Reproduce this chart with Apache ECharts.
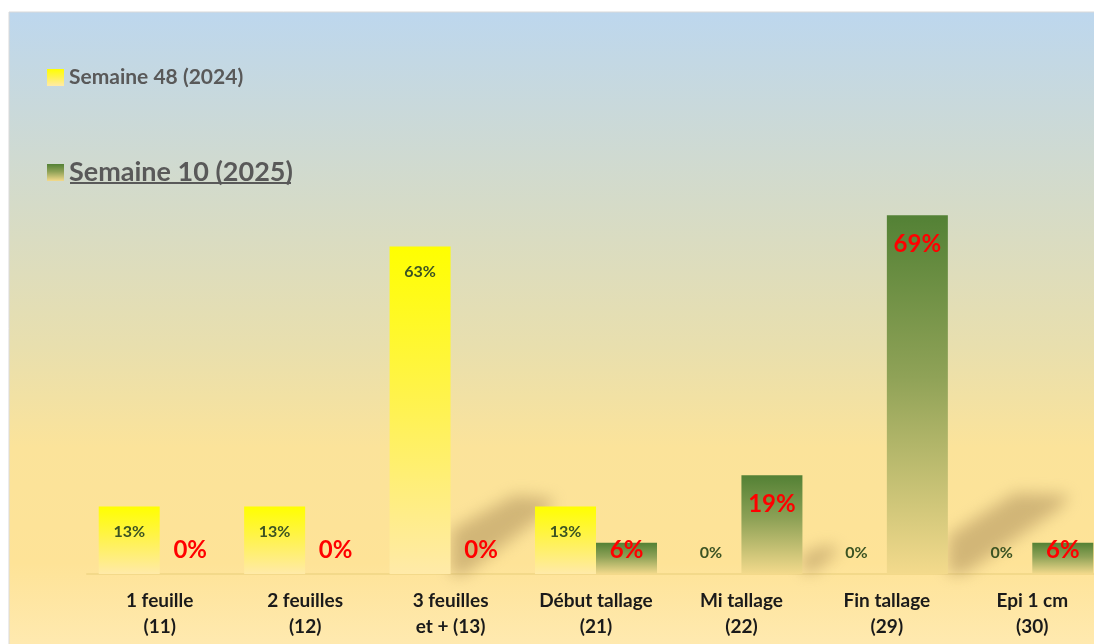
<!DOCTYPE html>
<html>
<head>
<meta charset="utf-8">
<script src="https://cdn.jsdelivr.net/npm/echarts@6/dist/echarts.min.js"></script>
<style>
  html, body { margin: 0; padding: 0; background: #fff; overflow: hidden; }
  #main { width: 1105px; height: 644px; }
</style>
</head>
<body>
<div id="main"></div>
<script>
// stades phenologiques
var categories = ['1 feuille\n(11)', '2 feuilles\n(12)', '3 feuilles\net + (13)', 'Début tallage\n(21)', 'Mi tallage\n(22)', 'Fin tallage\n(29)', 'Epi 1 cm\n(30)'];
var semaine48 = [13, 13, 63, 13, 0, 0, 0];
var semaine10 = [0, 0, 0, 6, 19, 69, 6];
var seriesNames = ['Semaine 48 (2024)', 'Semaine 10 (2025)'];

var chart = echarts.init(document.getElementById('main'));

function grad(top, mid, bottom) {
  return new echarts.graphic.LinearGradient(0, 0, 0, 1, [
    { offset: 0, color: top },
    { offset: 0.45, color: mid },
    { offset: 1, color: bottom }
  ]);
}

// petites barres : etiquette poussee vers le haut depuis la base
function buildData(values, small) {
  return values.map(function (v) {
    if (v < 10) {
      return { value: v, label: { position: 'insideBottom', distance: small ? 13 : 12 } };
    }
    return v;
  });
}

// ombres portees floues (decor du modele)
function softShadow(points) {
  return {
    type: 'polygon', z: 1, silent: true,
    shape: { points: points.map(function (p) { return [p[0] + 3000, p[1]]; }) },
    style: {
      fill: '#000',
      shadowColor: 'rgba(165, 135, 85, 0.5)',
      shadowBlur: 16,
      shadowOffsetX: -3000
    }
  };
}

var option = {
  backgroundColor: '#fff',
  animation: false,
  graphic: [
    {
      type: 'rect', z: -10, silent: true,
      shape: { x: 9, y: 12, width: 1100, height: 640 },
      style: {
        stroke: '#d9d9d9', lineWidth: 1,
        fill: new echarts.graphic.LinearGradient(0, 0, 0, 1, [
          { offset: 0, color: '#bdd7ee' },
          { offset: 0.3, color: '#d5dbc8' },
          { offset: 0.52, color: '#e8dfae' },
          { offset: 0.68, color: '#fbe39a' },
          { offset: 0.86, color: '#fee397' },
          { offset: 1, color: '#ffeab2' }
        ])
      }
    },
    softShadow([[451, 575], [451, 530], [515, 495], [555, 499], [546, 513], [464, 575]]),
    softShadow([[948, 574], [948, 536], [1015, 493], [1070, 495], [1060, 508], [964, 574]]),
    softShadow([[802, 572], [802, 554], [828, 545], [840, 550], [814, 572]]),
    {
      type: 'line', silent: true,
      shape: { x1: 70, y1: 183, x2: 291, y2: 183 },
      style: { stroke: '#595959', lineWidth: 2 }
    }
  ],
  legend: [
    {
      data: [seriesNames[0]],
      left: 42, top: 62, icon: 'rect',
      itemWidth: 17, itemHeight: 17, itemGap: 6,
      textStyle: { fontFamily: 'Lato', fontWeight: 'bold', fontSize: 21, color: '#595959' }
    },
    {
      data: [seriesNames[1]],
      left: 42, top: 154, icon: 'rect',
      itemWidth: 17, itemHeight: 17, itemGap: 6,
      textStyle: { fontFamily: 'Lato', fontWeight: 'bold', fontSize: 27, color: '#595959' }
    }
  ],
  grid: { left: 87, right: 0, top: 54, bottom: 70 },
  xAxis: {
    type: 'category',
    data: categories,
    axisLine: { show: true, lineStyle: { color: '#f3d98a', width: 2 } },
    axisTick: { show: false },
    axisLabel: {
      interval: 0,
      margin: 14,
      fontFamily: 'Lato', fontWeight: 'bold', fontSize: 19, lineHeight: 26, color: '#1a1a1a'
    }
  },
  yAxis: { type: 'value', min: 0, max: 100, show: false, splitLine: { show: false } },
  series: [
    {
      name: seriesNames[0],
      type: 'bar',
      barWidth: 61,
      barGap: '0%',
      data: buildData(semaine48, true),
      itemStyle: { color: grad('#ffff00', '#fff34a', '#ffeaa8') },
      label: {
        show: true, position: 'insideTop', distance: 17,
        formatter: '{c}%',
        fontFamily: 'Lato', fontWeight: 'bold', fontSize: 16, color: '#3b5323'
      }
    },
    {
      name: seriesNames[1],
      type: 'bar',
      barWidth: 61,
      data: buildData(semaine10, false),
      itemStyle: { color: grad('#538135', '#8fa257', '#f3da8c') },
      label: {
        show: true, position: 'insideTop', distance: 17,
        formatter: '{c}%',
        fontFamily: 'Lato', fontWeight: 'bold', fontSize: 24, color: '#ff0000'
      }
    }
  ]
};

chart.setOption(option);
</script>
</body>
</html>
